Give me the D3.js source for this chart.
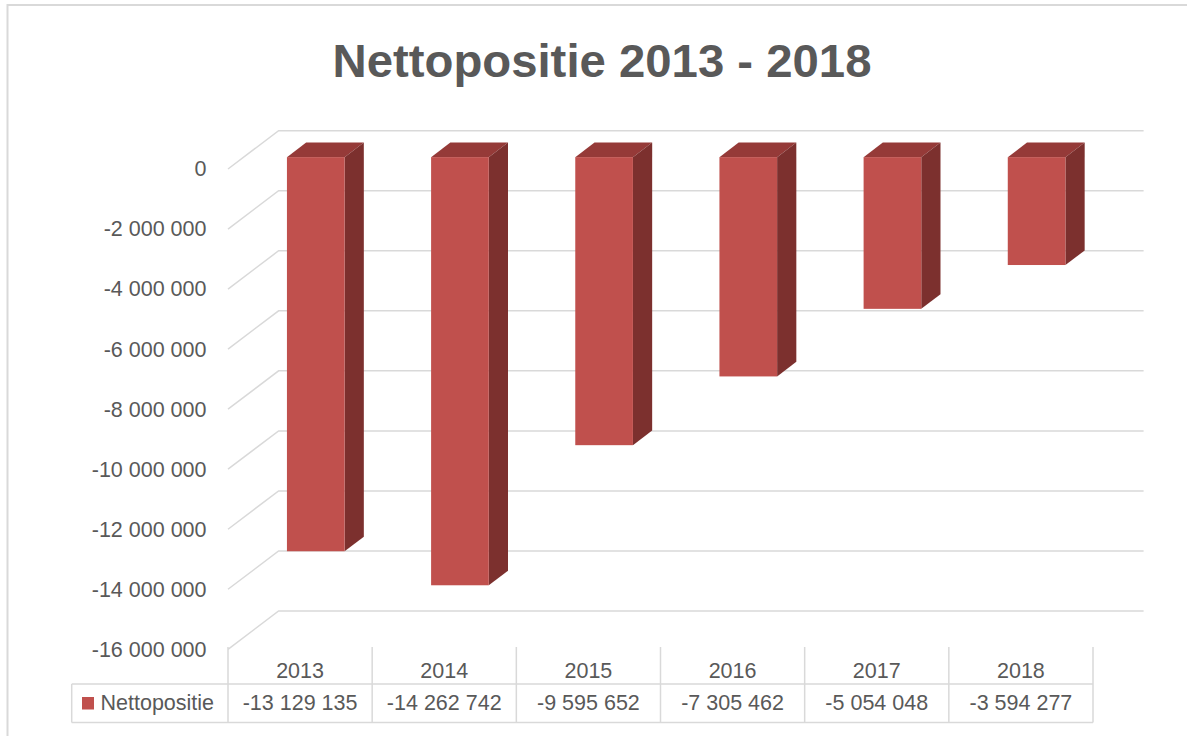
<!DOCTYPE html>
<html>
<head>
<meta charset="utf-8">
<script src="https://d3js.org/d3.v7.min.js"></script>
<style>
    body { margin: 0; background: #fff; }
    text { font-family: "Liberation Sans", Arial, sans-serif; fill: #595959; }
</style>
</head>
<body>
<svg id="chart" width="1187" height="736"></svg>
<script>
    // data
    const years = ["2013", "2014", "2015", "2016", "2017", "2018"];
    const values = [-13129135, -14262742, -9595652, -7305462, -5054048, -3594277];
    const yTicks = [0, -2000000, -4000000, -6000000, -8000000, -10000000, -12000000, -14000000, -16000000];
    const seriesName = "Nettopositie";
    const title = "Nettopositie 2013 - 2018";

    const svg = d3.select("#chart");
    const locale = d3.formatLocale({decimal: ",", thousands: " ", grouping: [3], currency: ["", ""], minus: "-"});
    const fmt = locale.format(",d");

    // 3d depth offset (front plane -> back wall)
    const DX = 50.6, DY = -38.3;
    const barD0 = 0.31, barD1 = 0.69;

    const x = d3.scaleBand().domain(years).range([228, 1093]);
    const y = d3.scaleLinear().domain([-16000000, 0]).range([649.3, 169]);

    // chart border
    svg.append("rect")
        .attr("x", 7.5).attr("y", 5)
        .attr("width", 1200).attr("height", 740)
        .attr("fill", "none")
        .attr("stroke", "#d9d9d9")
        .attr("stroke-width", 2);

    // title
    svg.append("text")
        .attr("x", 602).attr("y", 77)
        .attr("text-anchor", "middle")
        .attr("textLength", 539)
        .attr("lengthAdjust", "spacingAndGlyphs")
        .style("font-size", "46.5px")
        .style("font-weight", "bold")
        .text(title);

    // gridlines: side wall diagonal + back wall horizontal
    const x0 = x.range()[0], x1 = x.range()[1];
    svg.append("g").attr("class", "gridlines")
        .selectAll("polyline")
        .data(yTicks)
        .enter()
        .append("polyline")
        .attr("points", d => {
            const yf = y(d);
            return [[x0, yf], [x0 + DX, yf + DY], [x1 + DX, yf + DY]].join(" ");
        })
        .attr("fill", "none")
        .attr("stroke", "#d9d9d9")
        .attr("stroke-width", 1.5);

    // y axis labels
    const yAxis = svg.append("g")
        .attr("transform", `translate(${x0},0)`)
        .call(d3.axisLeft(y).tickValues(yTicks).tickFormat(fmt).tickSize(0).tickPadding(21.5));
    yAxis.select(".domain").remove();
    yAxis.selectAll("text")
        .style("font-family", "'Liberation Sans', Arial, sans-serif")
        .style("font-size", "21.5px")
        .attr("fill", "#595959");

    // bars
    const bw = x.bandwidth() * 0.4;
    const bars = svg.append("g").attr("class", "bars")
        .selectAll("g")
        .data(years.map((yr, i) => ({year: yr, value: values[i]})))
        .enter()
        .append("g");

    const fx = d => x(d.year) + (x.bandwidth() - bw) / 2 + DX * barD0;
    const fy = v => y(v) + DY * barD0;
    const sdx = DX * (barD1 - barD0), sdy = DY * (barD1 - barD0);

    // top face
    bars.append("polygon")
        .attr("points", d => {
            const a = fx(d), t = fy(0);
            return [[a, t], [a + bw, t], [a + bw + sdx, t + sdy], [a + sdx, t + sdy]].join(" ");
        })
        .attr("fill", "#953a38");

    // side face
    bars.append("polygon")
        .attr("points", d => {
            const a = fx(d) + bw, t = fy(0), b = fy(d.value);
            return [[a, t], [a + sdx, t + sdy], [a + sdx, b + sdy], [a, b]].join(" ");
        })
        .attr("fill", "#7c302e");

    // front face
    bars.append("rect")
        .attr("x", d => fx(d))
        .attr("y", fy(0))
        .attr("width", bw)
        .attr("height", d => fy(d.value) - fy(0))
        .attr("fill", "#c0504d");

    // data table
    const table = svg.append("g").attr("class", "table");
    const tLeft = 71.7, rowTop = 684, rowBottom = 722.5, headTop = 647;
    const lineStyle = sel => sel.attr("stroke", "#d9d9d9").attr("stroke-width", 1.5);

    table.append("line").attr("x1", tLeft).attr("x2", x1).attr("y1", rowTop).attr("y2", rowTop).call(lineStyle);
    table.append("line").attr("x1", tLeft).attr("x2", x1).attr("y1", rowBottom).attr("y2", rowBottom).call(lineStyle);
    table.append("line").attr("x1", tLeft).attr("x2", tLeft).attr("y1", rowTop).attr("y2", rowBottom).call(lineStyle);

    const bounds = years.map(yr => x(yr)).concat([x1]);
    table.selectAll("line.col")
        .data(bounds)
        .enter()
        .append("line")
        .attr("class", "col")
        .attr("x1", d => d).attr("x2", d => d)
        .attr("y1", headTop).attr("y2", rowBottom)
        .call(lineStyle);

    table.selectAll("text.year")
        .data(years)
        .enter()
        .append("text")
        .attr("class", "year")
        .attr("x", d => x(d) + x.bandwidth() / 2)
        .attr("y", 677.5)
        .attr("text-anchor", "middle")
        .style("font-size", "21.5px")
        .text(d => d);

    table.selectAll("text.val")
        .data(values)
        .enter()
        .append("text")
        .attr("class", "val")
        .attr("x", (d, i) => x(years[i]) + x.bandwidth() / 2)
        .attr("y", 710)
        .attr("text-anchor", "middle")
        .style("font-size", "21.5px")
        .text(d => fmt(d));

    // legend key in table
    table.append("rect")
        .attr("x", 82).attr("y", 697)
        .attr("width", 12).attr("height", 12.5)
        .attr("fill", "#c0504d");
    table.append("text")
        .attr("x", 100.5).attr("y", 710)
        .style("font-size", "21.5px")
        .text(seriesName);
</script>
</body>
</html>
